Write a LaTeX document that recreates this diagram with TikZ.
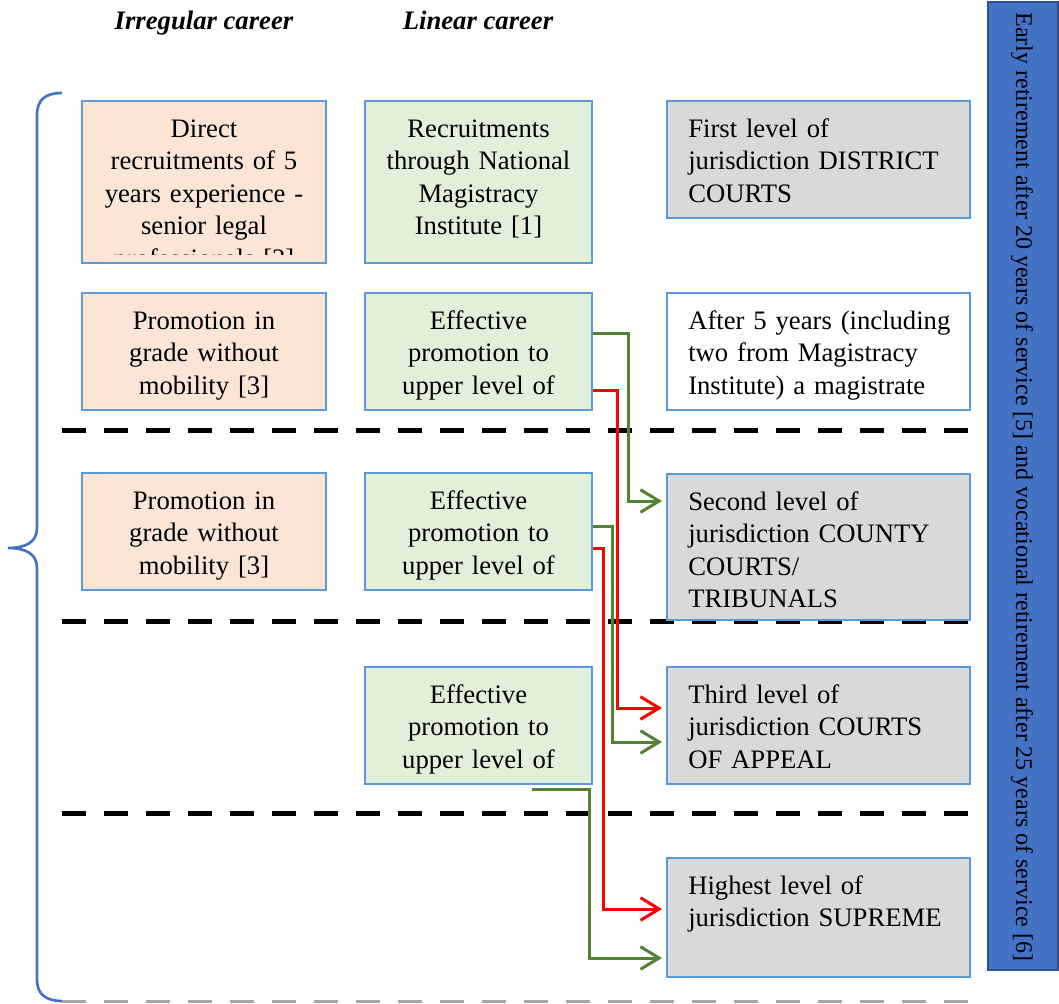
\documentclass[tikz,border=0pt]{standalone}
\usepackage{fontspec}
\setmainfont{Liberation Serif}
\usetikzlibrary{arrows.meta}
\definecolor{boxline}{HTML}{5B9BD5}
\definecolor{peach}{HTML}{FBE5D6}
\definecolor{mint}{HTML}{E2F0D9}
\definecolor{greyfill}{HTML}{D9D9D9}
\definecolor{barblue}{HTML}{4472C4}
\definecolor{barline}{HTML}{2F528F}
\definecolor{arrgreen}{HTML}{548235}
\definecolor{arrred}{HTML}{FF0000}
\definecolor{bottomgrey}{HTML}{A6A6A6}
\begin{document}
\begin{tikzpicture}[x=0.75pt,y=-0.75pt,
  every node/.style={font=\fontsize{20}{24.4}\selectfont},
  basebox/.style={draw=boxline, line width=1.5pt, inner sep=0pt, minimum width=#1},
  abox/.style={basebox=183pt, fill=peach},
  bbox/.style={basebox=170.25pt, fill=mint},
  cbox/.style={basebox=227.25pt, fill=greyfill},
  wbox/.style={basebox=227.25pt, fill=white},
  ctext/.style={anchor=base, text width=172pt, align=center, inner sep=0pt},
  ltext/.style={anchor=base west, text width=212pt, align=left, inner sep=0pt},
  titletext/.style={anchor=base, inner sep=0pt, font=\fontsize{20}{24.4}\selectfont\bfseries\itshape},
  sepline/.style={line width=3.75pt, dash pattern=on 18pt off 13.5pt},
  conn/.style={line width=2.25pt, -{Straight Barb[length=14pt,width=17pt]}, shorten >=3pt},
  garr/.style={conn, draw=arrgreen},
  rarr/.style={conn, draw=arrred}]
\useasboundingbox (0,0) rectangle (1059,1003);

% titles
\node[titletext] (t1) at (204,29) {Irregular career};
\node[titletext] (t2) at (478,29) {Linear career};

% brace and bottom line
\draw[barblue, line width=2pt] (62,93) .. controls (45,93) and (37,100) .. (37,115)
  -- (37,528) .. controls (37,542) and (26,548) .. (8,548)
  .. controls (26,548) and (37,554) .. (37,568)
  -- (37,980) .. controls (37,994) and (46,1001) .. (62,1001);
\draw[bottomgrey, line width=2.25pt, dash pattern=on 18pt off 13.5pt] (62,1001) -- (968,1001);

% separators
\draw[sepline] (62,430) -- (970,430);
\draw[sepline] (62,621) -- (970,621);
\draw[sepline] (62,813) -- (970,813);

% row 1
\node[abox, minimum height=121.5pt] (a1) at (204,182) {};
\begin{scope}
\clip (83,102) rectangle (325,254);
\node[ctext] (a1t) at (204,137) {Direct\\recruitments of 5\\years experience -\\senior legal\\professionals [2]};
\end{scope}
\node[bbox, minimum height=121.5pt] (b1) at (478.5,182) {};
\node[ctext] (b1t) at (478.5,137) {Recruitments\\through National\\Magistracy\\Institute [1]};
\node[cbox, minimum height=87.75pt] (c1) at (818.5,159.5) {};
\node[ltext] (c1t) at (688,137) {First level of\\jurisdiction DISTRICT\\COURTS};

% row 2
\node[abox, minimum height=87.75pt] (a2) at (204,351.5) {};
\node[ctext] (a2t) at (204,329) {Promotion in\\grade without\\mobility [3]};
\node[bbox, minimum height=87.75pt] (b2) at (478.5,351.5) {};
\node[ctext] (b2t) at (478.5,329) {Effective\\promotion to\\upper level of};
\node[wbox, minimum height=87.75pt] (c2) at (818.5,351.5) {};
\node[ltext] (c2t) at (688,329) {After 5 years (including\\two from Magistracy\\Institute) a magistrate};

% row 3
\node[abox, minimum height=87.75pt] (a3) at (204,531.5) {};
\node[ctext] (a3t) at (204,509) {Promotion in\\grade without\\mobility [3]};
\node[bbox, minimum height=87.75pt] (b3) at (478.5,531.5) {};
\node[ctext] (b3t) at (478.5,509) {Effective\\promotion to\\upper level of};
\node[cbox, minimum height=109.5pt] (c3) at (818.5,547) {};
\node[ltext] (c3t) at (688,510) {Second level of\\jurisdiction COUNTY\\COURTS/\\TRIBUNALS};

% row 4
\node[bbox, minimum height=87.75pt] (b4) at (478.5,725.5) {};
\node[ctext] (b4t) at (478.5,703) {Effective\\promotion to\\upper level of};
\node[cbox, minimum height=87.75pt] (c4) at (818.5,725.5) {};
\node[ltext] (c4t) at (688,703) {Third level of\\jurisdiction COURTS\\OF APPEAL};

% row 5
\node[cbox, minimum height=89.25pt] (c5) at (818.5,917.5) {};
\node[ltext] (c5t) at (688,894) {Highest level of\\jurisdiction SUPREME};

% right bar
\node[draw=barline, fill=barblue, line width=1.5pt, inner sep=0pt, minimum width=52.5pt, minimum height=726pt] (bar) at (1023,486) {};
\node[rotate=-90, inner sep=0pt, font=\fontsize{18}{22}\selectfont] (bart) at (1022,487) {Early retirement after 20 years of service [5] and vocational retirement after 25 years of service [6]};

% connectors
\coordinate (g3s) at (532,789);
\draw[garr] (b2.east |- 0,333) -| (628,501) -- (c3.west |- 0,501);
\draw[rarr] (b2.east |- 0,390) -| (617,708) -- (c4.west |- 0,708);
\draw[garr] (b3.east |- 0,526) -| (612,742) -- (c4.west |- 0,742);
\draw[rarr] (b3.east |- 0,548) -| (603,909) -- (c5.west |- 0,909);
\draw[garr] (g3s) -| (589,958) -- (c5.west |- 0,958);
\end{tikzpicture}
\end{document}
